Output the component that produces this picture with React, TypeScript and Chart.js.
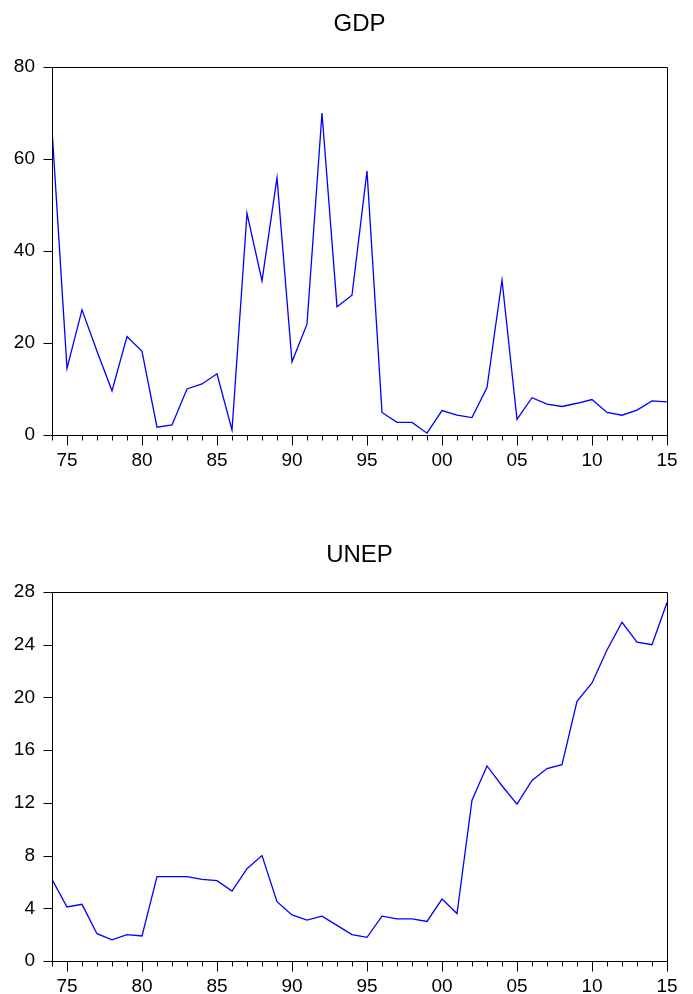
import React, { useEffect, useRef } from "react";
import { Chart, registerables } from "chart.js";

Chart.register(...registerables);

const YEARS = [
  1974, 1975, 1976, 1977, 1978, 1979, 1980, 1981, 1982, 1983, 1984, 1985, 1986, 1987,
  1988, 1989, 1990, 1991, 1992, 1993, 1994, 1995, 1996, 1997, 1998, 1999, 2000, 2001,
  2002, 2003, 2004, 2005, 2006, 2007, 2008, 2009, 2010, 2011, 2012, 2013, 2014, 2015,
];

const GDP = [
  66.5, 14.5, 27.2, 18.2, 9.6, 21.4, 18.2, 1.7, 2.2, 10.0, 11.1, 13.3, 1.1, 48.2,
  33.5, 55.9, 15.9, 24.1, 70.0, 27.9, 30.4, 57.4, 4.9, 2.75, 2.75, 0.4, 5.3, 4.3,
  3.8, 10.3, 33.7, 3.4, 8.1, 6.7, 6.2, 6.9, 7.7, 4.9, 4.3, 5.4, 7.4, 7.2,
];

const UNEP = [
  6.2, 4.1, 4.3, 2.07, 1.6, 2.0, 1.9, 6.4, 6.4, 6.4, 6.2, 6.1, 5.3, 7.0,
  8.0, 4.5, 3.5, 3.1, 3.4, 2.7, 2.0, 1.8, 3.4, 3.2, 3.2, 3.0, 4.7, 3.6,
  12.2, 14.8, 13.3, 11.9, 13.7, 14.6, 14.9, 19.7, 21.1, 23.6, 25.7, 24.2, 24.0, 27.2,
];

const X_TICK_YEARS = [1975, 1980, 1985, 1990, 1995, 2000, 2005, 2010, 2015];
const X_TICK_LABELS = ["75", "80", "85", "90", "95", "00", "05", "10", "15"];

const FONT = "'Liberation Sans', Arial, Helvetica, sans-serif";

const framePlugin = {
  id: "eviewsFrame",
  afterDraw(chart: any) {
    const ctx = chart.ctx;
    const a = chart.chartArea;
    const xs = chart.scales.x;
    const ys = chart.scales.y;
    ctx.save();
    ctx.strokeStyle = "#000";
    ctx.lineWidth = 1;
    const L = Math.round(a.left) + 0.5;
    const R = Math.round(a.right) + 0.5;
    const T = Math.round(a.top) + 0.5;
    const B = Math.round(a.bottom) + 0.5;
    ctx.beginPath();
    ctx.rect(L, T, R - L, B - T);
    ctx.stroke();
    ctx.beginPath();
    for (const yr of YEARS) {
      const px = Math.round(xs.getPixelForValue(yr)) + 0.5;
      const len = X_TICK_YEARS.includes(yr) ? 10 : 5;
      ctx.moveTo(px, B);
      ctx.lineTo(px, B + len);
    }
    for (const t of ys.ticks) {
      const py = Math.round(ys.getPixelForValue(t.value)) + 0.5;
      ctx.moveTo(L - 9, py);
      ctx.lineTo(L, py);
    }
    ctx.stroke();
    ctx.restore();
  },
};

type PanelProps = {
  title: string;
  values: number[];
  yMax: number;
  yStep: number;
  plotTop: number;
  titleTop: number;
  xHeight: number;
};

function Panel({ title, values, yMax, yStep, plotTop, titleTop, xHeight }: PanelProps) {
  const ref = useRef<HTMLCanvasElement>(null);
  useEffect(() => {
    if (!ref.current) return;
    const chart = new Chart(ref.current, {
      type: "line",
      data: {
        datasets: [
          {
            data: YEARS.map((y, i) => ({ x: y, y: values[i] })),
            borderColor: "#0000FF",
            borderWidth: 1.3,
            pointRadius: 0,
            tension: 0,
            fill: false,
          },
        ],
      },
      options: {
        animation: false,
        responsive: false,
        devicePixelRatio: 1,
        layout: { padding: { left: 0, right: 26, top: plotTop, bottom: 0 } },
        plugins: {
          legend: { display: false },
          tooltip: { enabled: false },
          title: { display: false },
        },
        scales: {
          x: {
            type: "linear",
            min: YEARS[0],
            max: YEARS[YEARS.length - 1],
            grid: { display: false, drawTicks: false },
            border: { display: false },
            afterFit: (s: any) => {
              s.height = xHeight;
            },
            afterBuildTicks: (s: any) => {
              s.ticks = X_TICK_YEARS.map((v) => ({ value: v }));
            },
            ticks: {
              autoSkip: false,
              maxRotation: 0,
              padding: 14,
              color: "#000",
              font: { family: FONT, size: 19 },
              callback: (v: any) => {
                const i = X_TICK_YEARS.indexOf(Number(v));
                return i >= 0 ? X_TICK_LABELS[i] : "";
              },
            },
          },
          y: {
            min: 0,
            max: yMax,
            grid: { display: false, drawTicks: false },
            border: { display: false },
            afterFit: (s: any) => {
              s.width = 52;
            },
            ticks: {
              stepSize: yStep,
              padding: 17,
              color: "#000",
              font: { family: FONT, size: 19 },
            },
          },
        },
      },
      plugins: [framePlugin],
    });
    return () => chart.destroy();
  }, []);
  return (
    <div style={{ position: "relative", width: 693, height: 497 }}>
      <canvas ref={ref} width={693} height={497} style={{ display: "block", width: 693, height: 497 }} />
      <div
        style={{
          position: "absolute",
          left: 52,
          width: 615,
          top: titleTop,
          textAlign: "center",
          fontFamily: FONT,
          fontSize: 24,
          lineHeight: "28px",
          color: "#000",
        }}
      >
        {title}
      </div>
    </div>
  );
}

export default function App() {
  return (
    <div style={{ position: "absolute", left: 0, top: 0, width: 693, height: 994, background: "#fff" }}>
      <Panel title="GDP" values={GDP} yMax={80} yStep={20} plotTop={67} titleTop={9} xHeight={62} />
      <Panel title="UNEP" values={UNEP} yMax={28} yStep={4} plotTop={95} titleTop={43} xHeight={33} />
    </div>
  );
}
